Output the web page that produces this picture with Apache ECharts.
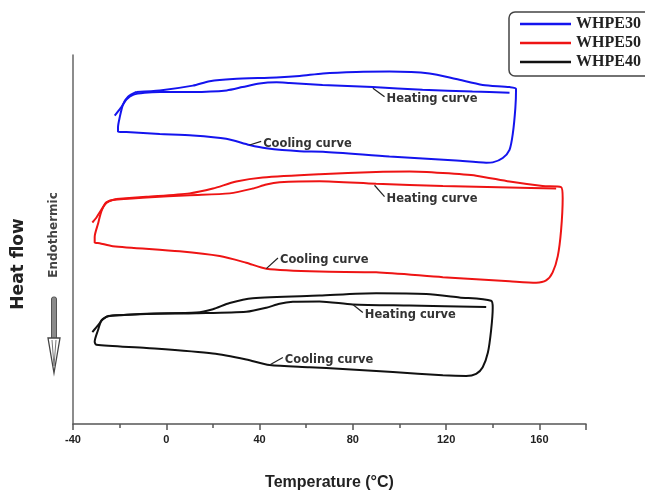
<!DOCTYPE html>
<html>
<head>
<meta charset="utf-8">
<script src="https://cdn.jsdelivr.net/npm/echarts@6/dist/echarts.min.js"></script>
<style>
  html, body { margin: 0; padding: 0; background: #fff; }
  #chart { width: 645px; height: 496px; }
</style>
</head>
<body>
<div id="chart"></div>
<script>
// DSC heat-flow loops: temperature (°C) vs heat flow (arbitrary units, curves offset vertically)
const sampleNames = ['WHPE30', 'WHPE50', 'WHPE40'];
const sampleColors = ['#1414ee', '#ee1414', '#111111'];

const xTicks = [-40, 0, 40, 80, 120, 160];

// WHPE30
const whpe30Heating = [[-22.1,83.6],[-19.6,85.6],[-17.0,88.0],[-14.0,89.3],[-9.3,89.8],[-2.8,90.0],[11.3,90.0],[25.9,90.4],[32.7,91.3],[40.0,92.3],[47.3,92.6],[52.9,92.4],[67.0,91.9],[88.5,91.3],[109.9,90.6],[131.3,90.1],[147.2,89.8]];
const whpe30Cycle = [[-12.8,90.0],[-2.8,90.4],[11.4,91.7],[18.6,92.9],[28.6,93.5],[47.2,93.9],[57.2,94.3],[67.2,95.0],[81.5,95.4],[95.7,95.5],[112.9,95.0],[124.3,93.5],[135.7,91.9],[147.2,91.3],[150.0,90.8],[149.7,85.6],[148.6,78.6],[147.2,74.3],[144.3,72.1],[140.0,70.9],[137.2,70.8],[124.3,71.4],[95.7,72.5],[67.2,73.8],[57.2,73.9],[42.9,74.7],[35.7,75.6],[25.7,77.3],[11.4,78.2],[-2.8,78.6],[-17.1,79.1],[-20.7,79.2],[-20.7,80.4],[-20.0,83.0],[-18.6,86.5],[-16.4,88.7],[-12.8,90.0]];

// WHPE50
const whpe50Heating = [[-31.7,54.6],[-30.0,55.9],[-27.8,58.1],[-25.7,59.9],[-22.9,60.7],[-8.5,61.4],[10.0,62.0],[27.2,62.5],[37.1,63.8],[42.9,64.9],[48.6,65.5],[65.7,65.8],[90.0,65.1],[118.6,64.5],[147.2,64.1],[167.2,63.8]];
const whpe50Cycle = [[-21.4,61.0],[-8.5,61.6],[10.0,62.5],[20.0,63.8],[30.0,65.7],[41.4,66.8],[65.7,67.7],[90.0,68.3],[104.3,68.4],[118.6,68.0],[132.9,67.3],[147.2,65.7],[161.4,64.5],[169.3,64.2],[170.0,61.2],[169.3,52.4],[167.9,45.5],[165.7,41.1],[162.9,38.9],[158.6,38.3],[147.2,38.7],[118.6,39.8],[90.0,41.1],[65.7,41.3],[42.9,42.1],[34.3,43.7],[22.9,45.5],[5.7,46.8],[-22.9,48.2],[-28.6,49.0],[-30.7,49.2],[-30.7,50.7],[-29.3,54.2],[-27.8,57.7],[-25.7,60.1],[-21.4,61.0]];

// WHPE40
const whpe40Heating = [[-31.7,24.9],[-29.3,26.7],[-27.1,28.5],[-24.3,29.3],[-8.5,29.8],[12.9,30.0],[34.3,30.4],[42.9,31.5],[48.6,32.6],[54.3,33.1],[65.7,33.2],[80.0,32.4],[104.3,32.1],[137.2,31.7]];
const whpe40Cycle = [[-25.0,29.3],[-8.5,29.9],[12.9,30.2],[20.0,31.1],[27.2,32.8],[37.1,34.1],[65.7,34.8],[90.0,35.4],[111.5,35.2],[125.7,34.3],[139.3,33.4],[140.0,31.5],[139.3,25.4],[137.9,19.3],[135.7,15.4],[132.9,13.6],[128.6,13.0],[118.6,13.2],[97.2,14.1],[75.7,14.9],[61.5,15.4],[44.3,16.0],[34.3,17.5],[20.0,19.1],[-8.5,20.6],[-30.0,21.5],[-30.7,22.3],[-29.3,25.4],[-27.8,28.0],[-25.0,29.3]];

// Curve callouts: leader from a point on the curve to the label anchor
const calloutTexts = ['Heating curve', 'Cooling curve', 'Heating curve', 'Cooling curve', 'Heating curve', 'Cooling curve'];
const calloutLeaders = [
  [[88.6,91.0],[93.6,88.7]],
  [[35.7,75.6],[40.7,76.6]],
  [[89.3,64.7],[93.6,61.6]],
  [[42.9,42.1],[47.9,45.0]],
  [[80.0,32.4],[84.3,30.2]],
  [[44.3,16.0],[50.0,18.0]]
];

const heatingData = [whpe30Heating, whpe50Heating, whpe40Heating];
const cycleData = [whpe30Cycle, whpe50Cycle, whpe40Cycle];

const series = [];
sampleNames.forEach((name, i) => {
  [cycleData[i], heatingData[i]].forEach(d => {
    series.push({
      name: name,
      type: 'line',
      data: d,
      showSymbol: false,
      smooth: 0.25,
      color: sampleColors[i],
      lineStyle: { width: 2, color: sampleColors[i] },
      z: 3
    });
  });
});

calloutLeaders.forEach((pts, i) => {
  series.push({
    name: 'callout' + i,
    type: 'line',
    data: pts,
    showSymbol: false,
    silent: true,
    color: '#222',
    lineStyle: { width: 1.2, color: '#222' },
    endLabel: {
      show: true,
      formatter: calloutTexts[i],
      distance: 2,
      offset: [0, 2.5],
      color: '#333',
      fontFamily: 'DejaVu Sans',
      fontWeight: 'bold',
      fontSize: 11.5
    },
    z: 4
  });
});

const chart = echarts.init(document.getElementById('chart'), null, { renderer: 'canvas' });
chart.setOption({
  animation: false,
  backgroundColor: '#fff',
  grid: { left: 73, right: 59, top: 55, bottom: 59, containLabel: false },
  legend: {
    data: sampleNames,
    orient: 'vertical',
    left: 509,
    top: 12,
    icon: 'rect',
    itemWidth: 51,
    itemHeight: 2.5,
    itemGap: 3,
    padding: [4, 24, 6, 11],
    borderColor: '#444',
    borderWidth: 1.5,
    borderRadius: 6,
    textStyle: {
      fontFamily: 'Liberation Serif',
      fontWeight: 'bold',
      fontSize: 16,
      lineHeight: 16,
      color: '#222'
    }
  },
  xAxis: [
    {
      type: 'value',
      min: -40,
      max: 180,
      interval: 40,
      name: 'Temperature (°C)',
      nameLocation: 'middle',
      nameGap: 51,
      nameTextStyle: { fontFamily: 'Liberation Sans', fontWeight: 'bold', fontSize: 16, color: '#222' },
      axisLine: { onZero: false, lineStyle: { color: '#555', width: 1.5 } },
      axisTick: { length: 6, lineStyle: { color: '#555', width: 1.5 } },
      axisLabel: {
        margin: 10,
        fontFamily: 'Liberation Sans',
        fontWeight: 'bold',
        fontSize: 11,
        color: '#222',
        formatter: v => (xTicks.indexOf(v) >= 0 ? String(v) : '')
      },
      splitLine: { show: false }
    },
    {
      type: 'value',
      min: -40,
      max: 180,
      interval: 20,
      position: 'bottom',
      axisLine: { show: false, onZero: false },
      axisTick: { length: 4, lineStyle: { color: '#555', width: 1.5 } },
      axisLabel: { show: false },
      splitLine: { show: false }
    }
  ],
  yAxis: {
    type: 'value',
    min: 0,
    max: 100,
    axisLine: { show: true, onZero: false, lineStyle: { color: '#666', width: 1.5 } },
    axisTick: { show: false },
    axisLabel: { show: false },
    splitLine: { show: false }
  },
  graphic: [
    {
      type: 'text', x: 19, y: 264, rotation: Math.PI / 2,
      style: { text: 'Heat flow', font: 'bold 17px "DejaVu Sans"', fill: '#222', align: 'center', verticalAlign: 'middle' }
    },
    {
      type: 'text', x: 54, y: 235, rotation: Math.PI / 2,
      style: { text: 'Endothermic', font: 'bold 12px "DejaVu Sans"', fill: '#444', align: 'center', verticalAlign: 'middle' }
    },
    {
      type: 'rect',
      shape: { x: 51.5, y: 297, width: 5, height: 43, r: 2 },
      style: { fill: '#8a8a8a', stroke: '#555', lineWidth: 1 }
    },
    {
      type: 'polygon',
      shape: { points: [[48, 338], [60, 338], [54, 373]] },
      style: { fill: '#fff', stroke: '#444', lineWidth: 1.3 }
    },
    {
      type: 'polyline',
      shape: { points: [[52, 340], [54, 366], [56, 340]] },
      style: { fill: 'none', stroke: '#777', lineWidth: 1 }
    }
  ],
  series: series
});
</script>
</body>
</html>
